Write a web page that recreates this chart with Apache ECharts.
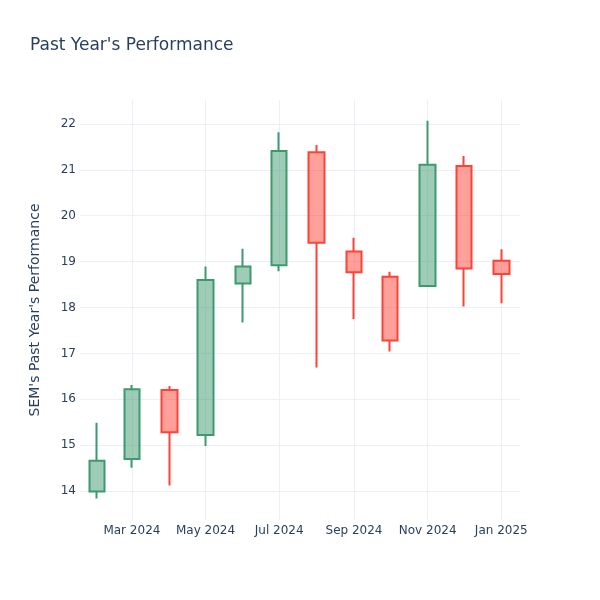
<!DOCTYPE html>
<html>
<head>
<meta charset="utf-8">
<script src="https://cdn.jsdelivr.net/npm/echarts@6/dist/echarts.min.js"></script>
<style>html,body{margin:0;padding:0;background:#fff}#c{width:600px;height:600px}</style>
</head>
<body>
<div id="c"></div>
<script>
// Monthly candles (date, open, close, low, high)
var dates = ['2024-02-01','2024-03-01','2024-04-01','2024-05-01','2024-06-01','2024-07-01','2024-08-01','2024-09-01','2024-10-01','2024-11-01','2024-12-01','2025-01-01'];
var opens  = [13.99, 14.70, 16.20, 15.22, 18.52, 18.92, 21.38, 19.22, 18.67, 18.47, 21.08, 19.02];
var closes = [14.66, 16.22, 15.28, 18.60, 18.89, 21.41, 19.41, 18.77, 17.28, 21.11, 18.85, 18.73];
var lows   = [13.84, 14.51, 14.12, 14.98, 17.67, 18.79, 16.69, 17.75, 17.04, 18.45, 18.02, 18.09];
var highs  = [15.49, 16.31, 16.29, 18.89, 19.28, 21.82, 21.54, 19.52, 18.78, 22.07, 21.30, 19.27];
var xTickDates = ['2024-03-01','2024-05-01','2024-07-01','2024-09-01','2024-11-01','2025-01-01'];
var yTicks = [14, 15, 16, 17, 18, 19, 20, 21, 22];
var monthNames = ['Jan','Feb','Mar','Apr','May','Jun','Jul','Aug','Sep','Oct','Nov','Dec'];

function ts(s) { var p = s.split('-'); return Date.UTC(+p[0], +p[1] - 1, +p[2]); }

var data = dates.map(function (d, i) { return [ts(d), opens[i], closes[i], lows[i], highs[i]]; });
var xTicks = xTickDates.map(ts);

var textColor = '#2a3f5f';
var font = 'DejaVu Sans';
var chart = echarts.init(document.getElementById('c'), null, { renderer: 'canvas' });
chart.setOption({
  animation: false,
  backgroundColor: '#fff',
  textStyle: { fontFamily: font },
  title: {
    text: "Past Year's Performance",
    left: 30, top: 37, padding: 0,
    textStyle: { fontFamily: font, fontSize: 17, fontWeight: 'normal', color: textColor }
  },
  grid: { left: 80, right: 80, top: 100, bottom: 80, containLabel: false },
  xAxis: {
    type: 'value',
    scale: true,
    min: Date.UTC(2024, 0, 18),
    max: Date.UTC(2025, 0, 16, 12),
    axisLine: { show: false },
    axisTick: { show: false, customValues: xTicks },
    axisLabel: {
      customValues: xTicks,
      color: textColor, fontSize: 12, fontFamily: font, margin: 5,
      formatter: function (v) { var d = new Date(v); return monthNames[d.getUTCMonth()] + ' ' + d.getUTCFullYear(); }
    },
    splitLine: { show: true, lineStyle: { color: '#EBF0F8', width: 1 } }
  },
  yAxis: {
    type: 'value',
    min: 13.37, max: 22.52,
    name: "SEM's Past Year's Performance",
    nameLocation: 'middle', nameGap: 38,
    nameTextStyle: { color: textColor, fontSize: 14, fontFamily: font },
    axisLine: { show: false },
    axisTick: { show: false, customValues: yTicks },
    axisLabel: { customValues: yTicks, color: textColor, fontSize: 12, fontFamily: font, margin: 4 },
    splitLine: { show: true, lineStyle: { color: '#EBF0F8', width: 1 } }
  },
  series: [{
    type: 'candlestick',
    data: data,
    encode: { x: 0, y: [1, 2, 3, 4] },
    barWidth: 16,
    itemStyle: {
      color: 'rgba(61,153,112,0.5)',
      color0: 'rgba(255,65,54,0.5)',
      borderColor: '#3D9970',
      borderColor0: '#FF4136',
      borderWidth: 2
    }
  }]
});
</script>
</body>
</html>
